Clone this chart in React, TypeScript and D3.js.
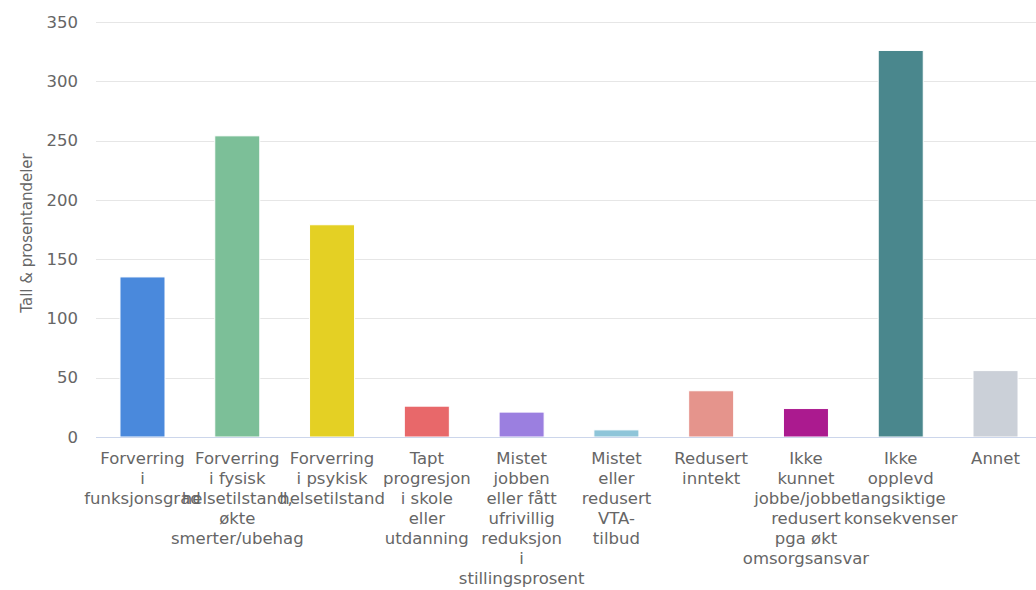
import * as d3 from 'd3'
import { useEffect, useRef } from 'react'

const categories = [
  'Forverring i funksjonsgrad',
  'Forverring i fysisk helsetilstand, økte smerter/ubehag',
  'Forverring i psykisk helsetilstand',
  'Tapt progresjon i skole eller utdanning',
  'Mistet jobben eller fått ufrivillig reduksjon i stillingsprosent',
  'Mistet eller redusert VTA-tilbud',
  'Redusert inntekt',
  'Ikke kunnet jobbe/jobbet redusert pga økt omsorgsansvar',
  'Ikke opplevd langsiktige konsekvenser',
  'Annet',
]

// how each x label wraps, as in the original
const labelLines = [
  ['Forverring', 'i', 'funksjonsgrad'],
  ['Forverring', 'i fysisk', 'helsetilstand,', 'økte', 'smerter/ubehag'],
  ['Forverring', 'i psykisk', 'helsetilstand'],
  ['Tapt', 'progresjon', 'i skole', 'eller', 'utdanning'],
  ['Mistet', 'jobben', 'eller fått', 'ufrivillig', 'reduksjon', 'i', 'stillingsprosent'],
  ['Mistet', 'eller', 'redusert', 'VTA-', 'tilbud'],
  ['Redusert', 'inntekt'],
  ['Ikke', 'kunnet', 'jobbe/jobbet', 'redusert', 'pga økt', 'omsorgsansvar'],
  ['Ikke', 'opplevd', 'langsiktige', 'konsekvenser'],
  ['Annet'],
]

const values = [135, 254, 179, 26, 21, 6, 39, 24, 326, 56]

const colors = [
  '#4a89dc', '#7cbf98', '#e4d024', '#e8686a', '#9b7fe0',
  '#8ec5d9', '#e5948c', '#ab1a8f', '#4a878d', '#cbd0d8',
]

const yTicks = [0, 50, 100, 150, 200, 250, 300, 350]

const FONT = '"DejaVu Sans", sans-serif'

export default function App() {
  const svgRef = useRef<SVGSVGElement | null>(null)

  useEffect(() => {
    document.body.style.margin = '0'
    if (!svgRef.current)
      return

    const W = 1036
    const H = 590
    const margin = { top: 22, right: 0, bottom: 153, left: 96 }
    const width = W - margin.left - margin.right
    const height = H - margin.top - margin.bottom

    const root = d3.select(svgRef.current)
    root.selectAll('*').remove()
    root.attr('width', W).attr('height', H)

    const g = root.append('g').attr('transform', `translate(${margin.left},${margin.top})`)

    // the band range runs a little past the right edge, as in the original
    const x = d3.scaleBand().domain(categories).range([0, 946]).paddingInner(0.525).paddingOuter(0.253)
    const y = d3.scaleLinear().domain([0, 350]).range([height, 0])

    // grid
    g.append('g')
      .selectAll('line')
      .data(yTicks.filter(t => t > 0))
      .enter()
      .append('line')
      .attr('x1', 0)
      .attr('x2', width)
      .attr('y1', d => Math.round(y(d)) + 0.5)
      .attr('y2', d => Math.round(y(d)) + 0.5)
      .attr('stroke', '#e6e6e6')

    // y labels
    g.append('g')
      .selectAll('text')
      .data(yTicks)
      .enter()
      .append('text')
      .attr('x', -18)
      .attr('y', d => y(d))
      .attr('dy', '0.35em')
      .attr('text-anchor', 'end')
      .attr('font-family', FONT)
      .attr('font-size', 16.5)
      .attr('fill', '#666')
      .text(d => d)

    // axis title
    root.append('text')
      .attr('transform', `translate(32,233) rotate(-90)`)
      .attr('text-anchor', 'middle')
      .attr('font-family', FONT)
      .attr('font-size', 15)
      .attr('fill', '#666')
      .text('Tall & prosentandeler')

    // bars
    g.append('g')
      .selectAll('rect')
      .data(values)
      .enter()
      .append('rect')
      .attr('x', (_, i) => x(categories[i]) || 0)
      .attr('y', d => y(d))
      .attr('width', x.bandwidth())
      .attr('height', d => height - y(d))
      .attr('fill', (_, i) => colors[i])
      .attr('stroke', '#fff')
      .attr('stroke-width', 1)

    // x axis line
    g.append('line')
      .attr('x1', 0)
      .attr('x2', width)
      .attr('y1', height + 0.5)
      .attr('y2', height + 0.5)
      .attr('stroke', '#ccd6eb')

    // x labels
    const lbl = g.append('g')
      .selectAll('text')
      .data(labelLines)
      .enter()
      .append('text')
      .attr('text-anchor', 'middle')
      .attr('font-family', FONT)
      .attr('font-size', 16.5)
      .attr('fill', '#666')
      .attr('transform', (_, i) => `translate(${(x(categories[i]) || 0) + x.bandwidth() / 2},${height + 27})`)

    lbl.selectAll('tspan')
      .data(d => d)
      .enter()
      .append('tspan')
      .attr('x', 0)
      .attr('y', (_, j) => j * 20)
      .text(d => d)
  }, [])

  return <svg ref={svgRef} style={{ display: 'block' }}></svg>
}
